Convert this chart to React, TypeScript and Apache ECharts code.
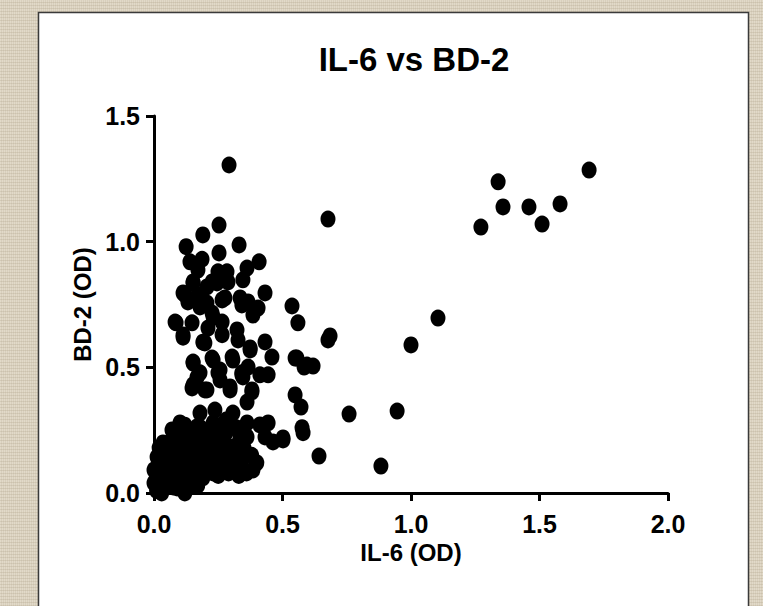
import React, { useEffect, useRef } from "react";
import * as echarts from "echarts";

const title = "IL-6 vs BD-2";
const xName = "IL-6 (OD)";
const yName = "BD-2 (OD)";

// Outlying high-IL-6 / high-BD-2 points
const outliers: number[][] = [
  [0.292, 1.305], [0.677, 1.09], [1.693, 1.285], [1.339, 1.238], [1.358, 1.138],
  [1.272, 1.058], [1.459, 1.138], [1.51, 1.07], [1.58, 1.15], [1.105, 0.696],
  [1.0, 0.589], [0.946, 0.326], [0.759, 0.314], [0.883, 0.107], [0.642, 0.147],
];

// Upper cluster (BD-2 roughly 0.4 - 1.07)
const upperCluster: number[][] = [
  [0.253, 1.066], [0.19, 1.027], [0.125, 0.98], [0.331, 0.987], [0.253, 0.955],
  [0.14, 0.92], [0.187, 0.93], [0.409, 0.92], [0.362, 0.895], [0.346, 0.848],
  [0.249, 0.88], [0.284, 0.88], [0.171, 0.887], [0.152, 0.84], [0.226, 0.84],
  [0.288, 0.84], [0.113, 0.796], [0.132, 0.76], [0.171, 0.788], [0.206, 0.82],
  [0.276, 0.776], [0.432, 0.796], [0.335, 0.776], [0.366, 0.76], [0.405, 0.736],
  [0.385, 0.708], [0.342, 0.748], [0.179, 0.74], [0.226, 0.716], [0.537, 0.744],
  [0.56, 0.677], [0.086, 0.677], [0.148, 0.677], [0.113, 0.62], [0.21, 0.656],
  [0.265, 0.68], [0.265, 0.63], [0.323, 0.649], [0.327, 0.609], [0.198, 0.597],
  [0.685, 0.625], [0.677, 0.609], [0.432, 0.601], [0.459, 0.541], [0.374, 0.577],
  [0.366, 0.501], [0.304, 0.541], [0.226, 0.537], [0.152, 0.517], [0.444, 0.47],
  [0.342, 0.47], [0.549, 0.537], [0.584, 0.501], [0.619, 0.505], [0.257, 0.489],
  [0.167, 0.46], [0.148, 0.418], [0.206, 0.41], [0.296, 0.422], [0.381, 0.402],
  [0.549, 0.39], [0.572, 0.342], [0.576, 0.26], [0.58, 0.24], [0.502, 0.211],
  [0.121, 0.788], [0.152, 0.836], [0.082, 0.68], [0.113, 0.629], [0.19, 0.6],
  [0.23, 0.7], [0.206, 0.756], [0.265, 0.768], [0.245, 0.836], [0.374, 0.569],
  [0.152, 0.521], [0.23, 0.529], [0.307, 0.529], [0.179, 0.478], [0.249, 0.478],
  [0.342, 0.478], [0.412, 0.47], [0.556, 0.537], [0.595, 0.509],
];

// Lower cluster (BD-2 roughly 0.1 - 0.45)
const lowerCluster: number[][] = [
  [0.152, 0.43], [0.198, 0.41], [0.257, 0.45], [0.296, 0.41], [0.346, 0.462],
  [0.381, 0.41], [0.362, 0.362], [0.179, 0.318], [0.237, 0.33], [0.307, 0.318],
  [0.167, 0.263], [0.23, 0.279], [0.362, 0.279], [0.412, 0.271], [0.444, 0.279],
  [0.432, 0.223], [0.463, 0.203], [0.502, 0.219], [0.101, 0.279], [0.07, 0.251],
  [0.035, 0.199], [0.012, 0.143], [0.0, 0.092], [0.0, 0.04], [0.362, 0.223],
  [0.335, 0.159], [0.385, 0.092], [0.284, 0.092], [0.19, 0.103], [0.14, 0.052],
  [0.074, 0.024], [0.023, 0.024], [0.323, 0.119], [0.245, 0.183], [0.179, 0.171],
  [0.296, 0.183], [0.335, 0.223],
];

// Dense mass near the origin
const originCluster: number[][] = [
  [0.01, 0.01], [0.02, 0.05], [0.03, 0.08], [0.04, 0.02], [0.05, 0.11],
  [0.06, 0.04], [0.07, 0.15], [0.08, 0.07], [0.09, 0.02], [0.1, 0.12],
  [0.11, 0.18], [0.12, 0.06], [0.13, 0.1], [0.14, 0.21], [0.15, 0.14],
  [0.16, 0.03], [0.17, 0.2], [0.02, 0.12], [0.04, 0.16], [0.06, 0.2],
  [0.08, 0.23], [0.05, 0.06], [0.09, 0.09], [0.11, 0.04], [0.13, 0.16],
  [0.15, 0.08], [0.17, 0.12], [0.19, 0.06], [0.21, 0.14], [0.23, 0.08],
  [0.25, 0.22], [0.27, 0.13], [0.29, 0.08], [0.31, 0.17], [0.33, 0.07],
  [0.2, 0.24], [0.22, 0.2], [0.17, 0.03], [0.24, 0.12], [0.28, 0.24],
  [0.32, 0.26], [0.38, 0.15], [0.4, 0.12], [0.36, 0.08], [0.01, 0.06],
  [0.03, 0.13], [0.06, 0.1], [0.1, 0.24], [0.12, 0.27], [0.07, 0.03],
  [0.12, 0.0], [0.03, 0.0], [0.16, 0.09], [0.2, 0.1], [0.25, 0.07],
  [0.3, 0.1], [0.34, 0.12], [0.02, 0.18], [0.09, 0.19], [0.14, 0.13],
  [0.18, 0.26], [0.27, 0.19], [0.2, 0.17], [0.26, 0.16], [0.3, 0.14],
  [0.35, 0.18], [0.24, 0.25], [0.28, 0.29], [0.18, 0.21], [0.13, 0.23],
  [0.05, 0.14], [0.08, 0.12], [0.1, 0.07], [0.22, 0.11], [0.33, 0.2],
];

const xTicks = { min: 0, max: 2, interval: 0.5 };
const yTicks = { min: 0, max: 1.5, interval: 0.5 };

const FONT = "'Liberation Sans', Arial, sans-serif";

export default function App() {
  const ref = useRef<HTMLDivElement>(null);
  useEffect(() => {
    if (!ref.current) return;
    const chart = echarts.init(ref.current, undefined, { renderer: "svg" });
    const data = [...outliers, ...upperCluster, ...lowerCluster, ...originCluster];
    chart.setOption({
      animation: false,
      backgroundColor: "transparent",
      graphic: [
        {
          type: "rect",
          z: -10,
          silent: true,
          shape: { x: 38.5, y: 12.5, width: 710, height: 620 },
          style: { fill: "#ffffff", stroke: "#3a3a3a", lineWidth: 1.5 },
        },
      ],
      title: {
        text: title,
        left: 409,
        top: 38,
        textAlign: "center",
        textStyle: { fontFamily: FONT, fontWeight: "bold", fontSize: 33, color: "#000" },
      },
      grid: { left: 154, right: 95, top: 116, bottom: 113, containLabel: false },
      xAxis: {
        type: "value",
        min: xTicks.min,
        max: xTicks.max,
        interval: xTicks.interval,
        name: xName,
        nameLocation: "middle",
        nameGap: 47,
        nameTextStyle: { fontFamily: FONT, fontWeight: "bold", fontSize: 24, color: "#000" },
        axisLine: { onZero: false, lineStyle: { color: "#000", width: 3 } },
        axisTick: { show: true, length: 8, lineStyle: { color: "#000", width: 3 } },
        axisLabel: {
          fontFamily: FONT, fontWeight: "bold", fontSize: 25, color: "#000", margin: 18,
          formatter: (v: number) => v.toFixed(1),
        },
        splitLine: { show: false },
      },
      yAxis: {
        type: "value",
        min: yTicks.min,
        max: yTicks.max,
        interval: yTicks.interval,
        name: yName,
        nameLocation: "middle",
        nameGap: 54,
        nameRotate: 90,
        nameTextStyle: { fontFamily: FONT, fontWeight: "bold", fontSize: 24, color: "#000" },
        axisLine: { onZero: false, lineStyle: { color: "#000", width: 3 } },
        axisTick: { show: true, length: 8, lineStyle: { color: "#000", width: 3 } },
        axisLabel: {
          fontFamily: FONT, fontWeight: "bold", fontSize: 25, color: "#000", margin: 14,
          formatter: (v: number) => v.toFixed(1),
        },
        splitLine: { show: false },
      },
      series: [
        {
          type: "scatter",
          data,
          symbol: "circle",
          symbolSize: [15, 17],
          itemStyle: { color: "#000", opacity: 1 },
          clip: false,
        },
      ],
    });
    return () => chart.dispose();
  }, []);

  const bg: React.CSSProperties = {
    position: "absolute",
    left: 0,
    top: 0,
    width: 763,
    height: 606,
    backgroundColor: "#d8cfbd",
    backgroundImage:
      "repeating-linear-gradient(0deg, rgba(150,135,105,0.18) 0px, rgba(150,135,105,0.18) 1px, transparent 1px, transparent 3px), repeating-linear-gradient(90deg, rgba(255,250,235,0.25) 0px, rgba(255,250,235,0.25) 1px, transparent 1px, transparent 2px)",
    overflow: "hidden",
  };

  return (
    <div style={bg}>
      <div ref={ref} style={{ width: 763, height: 606 }} />
    </div>
  );
}
